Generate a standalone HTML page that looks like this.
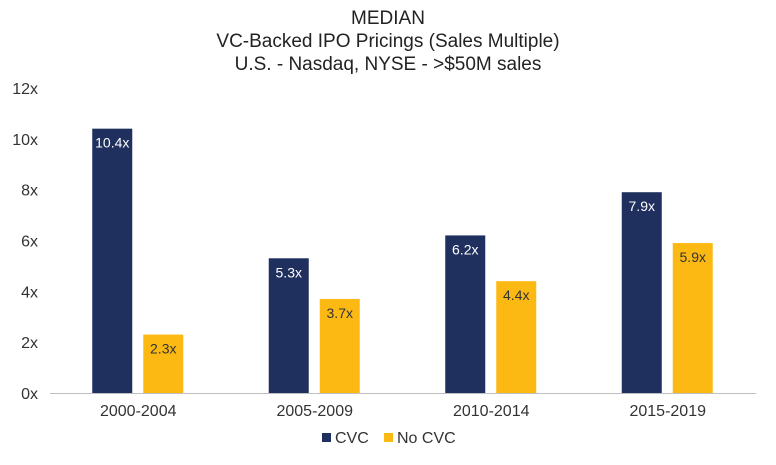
<!DOCTYPE html>
<html><head><meta charset="utf-8"><style>
body{margin:0;background:#fff;}
svg{display:block;font-family:"Liberation Sans",sans-serif;}
</style></head><body>
<svg id="chart" width="776" height="465">
<g fill="#222" font-size="19" text-anchor="middle">
<text x="388" y="24">MEDIAN</text>
<text x="388" y="47">VC-Backed IPO Pricings (Sales Multiple)</text>
<text x="388" y="70">U.S. - Nasdaq, NYSE - &gt;$50M sales</text>
</g>
<g id="axis"></g>
<g id="bars"></g>
<g id="xlabels"></g>
<g font-size="16" fill="#333">
<g><rect x="322" y="433" width="9" height="9" fill="#1f2f5e"/><text x="335" y="443">CVC</text></g>
<g><rect x="384" y="433" width="9" height="9" fill="#fdb913"/><text x="397" y="443">No CVC</text></g>
</g>
</svg>
<script>
const categories=["2000-2004","2005-2009","2010-2014","2015-2019"];
const cvc=[10.4,5.3,6.2,7.9];
const noCvc=[2.3,3.7,4.4,5.9];
const yTicks=[0,2,4,6,8,10,12];
const NS="http://www.w3.org/2000/svg";
const y0=393,yTop=88,yMax=12,left=50,right=756;
const y=v=>y0-(y0-yTop)*v/yMax;
const bw=(right-left)/categories.length;
const xc=i=>left+bw*(i+0.5);
function mk(t,a,p){const e=document.createElementNS(NS,t);for(const k in a)e.setAttribute(k,a[k]);p.appendChild(e);return e;}
const ax=document.getElementById('axis'),bars=document.getElementById('bars'),xl=document.getElementById('xlabels');
yTicks.forEach(v=>{const t=mk('text',{x:38,y:y(v)+6,'text-anchor':'end','font-size':16,fill:'#333'},ax);t.textContent=v+'x';

});
const base=mk('line',{x1:left,x2:right,y1:y0+0.5,y2:y0+0.5,stroke:'#bfbfbf'},ax);


categories.forEach((c,i)=>{
 const t=mk('text',{x:xc(i),y:416,'text-anchor':'middle','font-size':16,fill:'#333'},xl);t.textContent=c;
 
 
 [[cvc[i],'#1f2f5e','#fff',-46],[noCvc[i],'#fdb913','#333',5]].forEach(([v,col,tc,off],j)=>{
  const r=mk('rect',{x:xc(i)+off,y:y(v),width:40,height:y0-y(v),fill:col},bars);
  
  
  const l=mk('text',{x:xc(i)+off+20,y:y(v)+19,'text-anchor':'middle','font-size':14,fill:tc},bars);l.textContent=v.toFixed(1)+'x';
  
  
 });
});
</script>
</body></html>
